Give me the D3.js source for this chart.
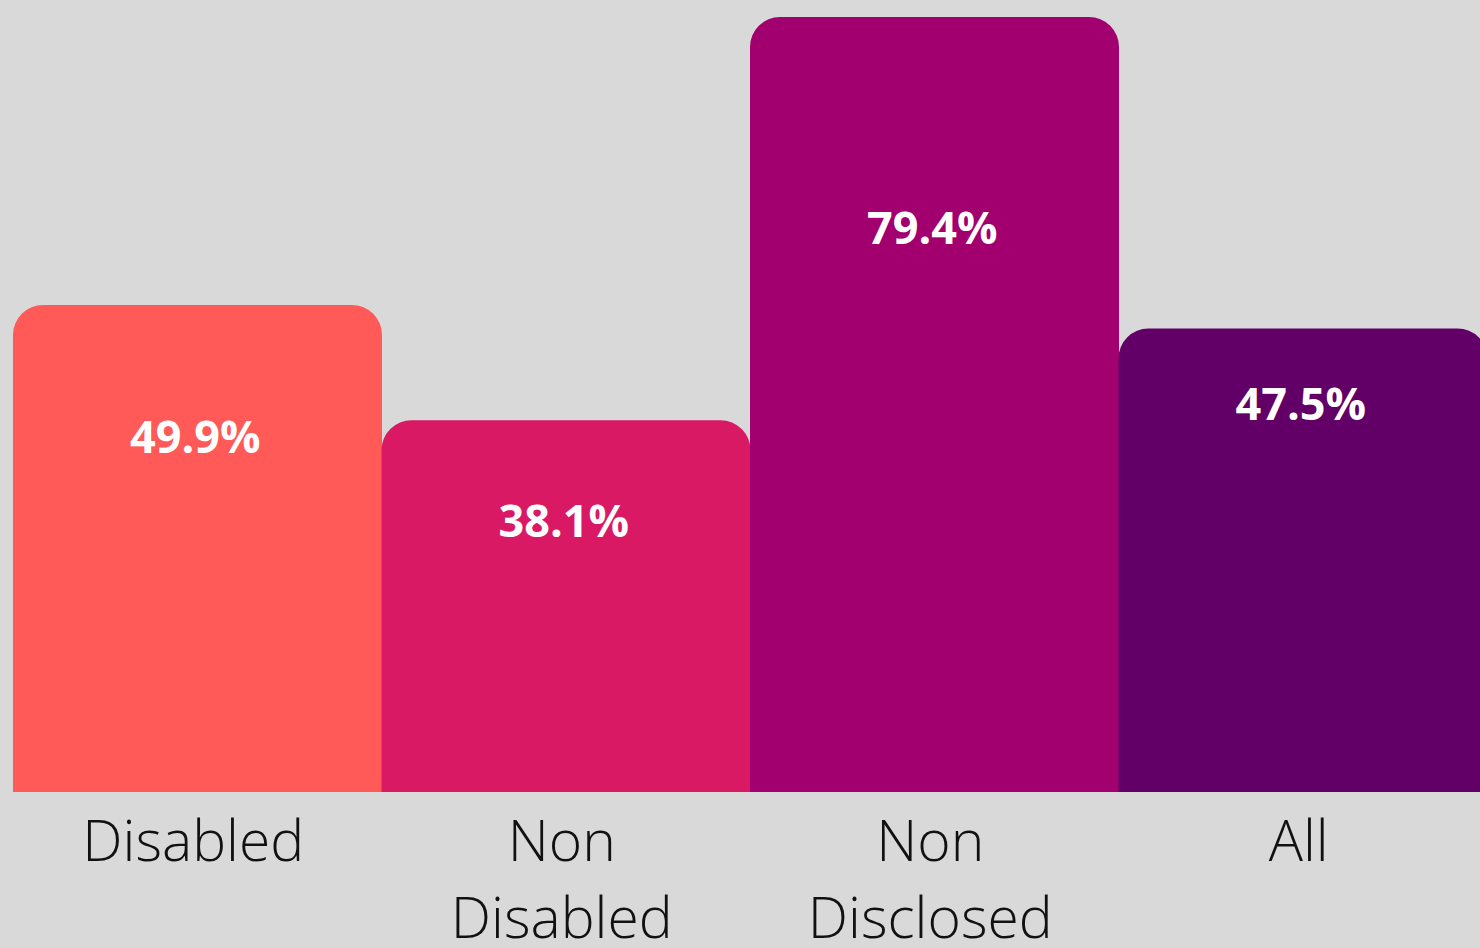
<!DOCTYPE html>
<html>
<head>
<meta charset="utf-8">
<script src="https://cdn.jsdelivr.net/npm/d3@7"></script>
<style>
  html, body { margin: 0; padding: 0; background: #d9d9d9; overflow: hidden; }
  .cat { font-family: "Open Sans", sans-serif; font-weight: 300; font-stretch: 88%; font-size: 57px; fill: #111; }
  .val { font-family: "Open Sans", sans-serif; font-weight: 700; font-size: 45px; fill: #fff; }
</style>
</head>
<body>
<div class="chart"></div>
<script>
// data
let categories = ['Disabled', 'Non Disabled', 'Non Disclosed', 'All'];
let values = [49.9, 38.1, 79.4, 47.5];
let labelLevels = [34.7, 26.1, 56.1, 38.1]; // where the value text sits, in % units
let colors = ['#ff5a57', '#d91963', '#a1006e', '#620068'];

let width = 1480;
let height = 948;
let margin = { left: 13, right: -7, bottom: 156 };

let svg = d3.select('.chart')
  .append('svg')
  .attr('width', width)
  .attr('height', height);

svg.append('rect')
  .attr('width', width)
  .attr('height', height)
  .attr('fill', '#d9d9d9');

let baseY = height - margin.bottom;

let xScale = d3.scaleBand()
  .domain(categories)
  .range([margin.left, width - margin.right])
  .padding(0);

let yScale = d3.scaleLinear()
  .domain([0, 100])
  .range([baseY, baseY - 976]);

// bar with rounded top corners only
function topRounded(x, y, w, h, r) {
  return 'M' + x + ',' + (y + h) +
    'V' + (y + r) +
    'A' + r + ',' + r + ' 0 0 1 ' + (x + r) + ',' + y +
    'H' + (x + w - r) +
    'A' + r + ',' + r + ' 0 0 1 ' + (x + w) + ',' + (y + r) +
    'V' + (y + h) + 'Z';
}

svg.selectAll('.bar')
  .data(values)
  .enter().append('path')
  .attr('class', 'bar')
  .attr('fill', function(d, i) { return colors[i]; })
  .attr('d', function(d, i) {
    let x = xScale(categories[i]);
    let y = yScale(d);
    return topRounded(x, y, xScale.bandwidth() + 0.5, baseY - y, 30);
  });

svg.selectAll('.val')
  .data(values)
  .enter().append('text')
  .attr('class', 'val')
  .attr('text-anchor', 'middle')
  .attr('x', function(d, i) { return xScale(categories[i]) + xScale.bandwidth() / 2 - 2; })
  .attr('y', function(d, i) { return yScale(labelLevels[i]); })
  .text(function(d) { return d.toFixed(1) + '%'; });

// category labels, wrapped on the space
let cats = svg.selectAll('.cat')
  .data(categories)
  .enter().append('text')
  .attr('class', 'cat')
  .attr('text-anchor', 'middle')
  .attr('x', function(d) { return xScale(d) + xScale.bandwidth() / 2 - 4; })
  .attr('y', baseY + 69);

cats.each(function(d) {
  let t = d3.select(this);
  d.split(' ').forEach(function(word, j) {
    t.append('tspan')
      .attr('x', t.attr('x'))
      .attr('dy', j === 0 ? 0 : 77)
      .text(word);
  });
});
</script>
</body>
</html>
